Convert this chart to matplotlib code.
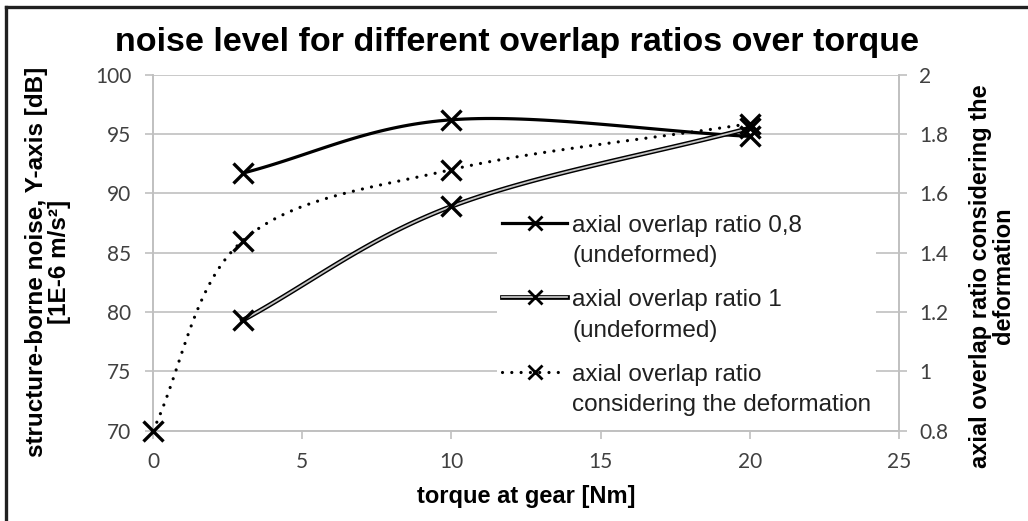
import numpy as np
import matplotlib.pyplot as plt
import matplotlib.patheffects as pe
from matplotlib.legend_handler import HandlerLine2D
from matplotlib.lines import Line2D
from matplotlib.transforms import Affine2D

# values
torque = [3, 10, 20]
noise_08 = [91.7, 96.2, 94.8]
noise_1 = [79.3, 88.9, 95.5]
torque_def = [0, 3, 10, 20]
ratio_def = [0.8, 1.44, 1.68, 1.835]

x_ticks = [0, 5, 10, 15, 20, 25]
y_ticks = [70, 75, 80, 85, 90, 95, 100]
y2_ticks = [0.8, 1.0, 1.2, 1.4, 1.6, 1.8, 2.0]

labels = ['axial overlap ratio 0,8\n(undeformed)',
          'axial overlap ratio 1\n(undeformed)',
          'axial overlap ratio\nconsidering the deformation']

TICK_FONT = ['Lato', 'DejaVu Sans']
LABEL_FONT = ['Liberation Sans', 'DejaVu Sans']
GRID = '#c0c0c0'
TXT = '#404040'


def smooth(x, y, n=40):
    # excel style smoothed line, catmull-rom as cubic bezier
    x = np.asarray(x, float)
    y = np.asarray(y, float)
    # reflected end points
    px = np.r_[2 * x[0] - x[1], x, 2 * x[-1] - x[-2]]
    py = np.r_[2 * y[0] - y[1], y, 2 * y[-1] - y[-2]]
    t = np.linspace(0, 1, n)
    xs, ys = [], []
    for i in range(1, len(x)):
        p0x, p0y = px[i], py[i]
        p3x, p3y = px[i + 1], py[i + 1]
        c1x = p0x + (px[i + 1] - px[i - 1]) / 6
        c1y = p0y + (py[i + 1] - py[i - 1]) / 6
        c2x = p3x - (px[i + 2] - px[i]) / 6
        c2y = p3y - (py[i + 2] - py[i]) / 6
        b = [(1 - t) ** 3, 3 * (1 - t) ** 2 * t, 3 * (1 - t) * t ** 2, t ** 3]
        xs.append(b[0] * p0x + b[1] * c1x + b[2] * c2x + b[3] * p3x)
        ys.append(b[0] * p0y + b[1] * c1y + b[2] * c2y + b[3] * p3y)
    return np.concatenate(xs), np.concatenate(ys)


class FirstLineHandler(HandlerLine2D):
    # put the legend symbol next to the first text line, like excel
    def create_artists(self, legend, orig_handle, xdescent, ydescent,
                       width, height, fontsize, trans):
        arts = super().create_artists(legend, orig_handle, xdescent, ydescent,
                                      width, height, fontsize, trans)
        for a in arts:
            a.set_transform(Affine2D().translate(0, 0.75 * fontsize) + trans)
        return arts


fig = plt.figure(figsize=(10.28, 5.21), dpi=100)
ax = fig.add_axes([153 / 1028, 1 - 430.7 / 521, 746 / 1028, 356 / 521])
ax2 = ax.twinx()

double_fx = [pe.Stroke(linewidth=3.4, foreground='black'), pe.Normal()]
mk = dict(marker='x', markersize=14, markeredgewidth=2.4, color='black')
lmk = dict(marker='x', markersize=10, markeredgewidth=2.0, markeredgecolor='black')

sx, sy = smooth(torque, noise_08)
ax.plot(sx, sy, color='black', lw=2.3, solid_capstyle='round', zorder=3)
ax.plot(torque, noise_08, ls='none', zorder=4, clip_on=False, **mk)

sx, sy = smooth(torque, noise_1)
ax.plot(sx, sy, color='#c4c4c4', lw=1.3, path_effects=double_fx, zorder=3)
ax.plot(torque, noise_1, ls='none', zorder=4, clip_on=False, **mk)

sx, sy = smooth(torque_def, ratio_def)
ax2.plot(sx, sy, color='black', lw=2.3, ls=(0, (0.01, 2.9)),
         dash_capstyle='round', zorder=3)
ax2.plot(torque_def, ratio_def, ls='none', zorder=4, clip_on=False, **mk)

ax.set_xlim(0, 25)
ax.set_ylim(70, 100)
ax2.set_ylim(0.8, 2.0)
ax.set_xticks(x_ticks)
ax.set_yticks(y_ticks)
ax2.set_yticks(y2_ticks)
ax2.set_yticklabels(['%g' % v for v in y2_ticks])

ax.grid(axis='y', color=GRID, lw=1.2)
ax.set_axisbelow(True)
for a in (ax, ax2):
    a.spines['top'].set_visible(False)
    for s in ('left', 'right', 'bottom'):
        a.spines[s].set_color(GRID)
        a.spines[s].set_linewidth(1.2)
    a.tick_params(colors=GRID, labelcolor=TXT, length=5.5, width=1.2,
                  labelsize=15, pad=9)
ax.tick_params(axis='y', pad=10)
ax.tick_params(axis='x', pad=10)
for lab in ax.get_xticklabels() + ax.get_yticklabels() + ax2.get_yticklabels():
    lab.set_family(TICK_FONT)

fig.text(517 / 1028, 1 - 42 / 521, 'noise level for different overlap ratios over torque',
         ha='center', va='center', fontsize=24.5, family=LABEL_FONT, weight='bold')
fig.text(526 / 1028, 1 - 497 / 521, 'torque at gear [Nm]', ha='center', va='center',
         fontsize=17, family=LABEL_FONT, weight='bold')
fig.text(48 / 1028, 1 - 262 / 521, 'structure-borne noise, Y-axis [dB]\n[1E-6 m/s²]',
         ha='center', va='center', rotation=90, multialignment='center',
         fontsize=17.5, family=LABEL_FONT, weight='bold', linespacing=1.05)
fig.text(992 / 1028, 1 - 276 / 521, 'axial overlap ratio considering the\ndeformation',
         ha='center', va='center', rotation=90, multialignment='center',
         fontsize=17, family=LABEL_FONT, weight='bold', linespacing=1.0)

# screenshot border on top and left
fig.add_artist(Line2D([6 / 1028, 6 / 1028], [0, 1 - 7 / 521], transform=fig.transFigure,
                      color='#202020', lw=2.4))
fig.add_artist(Line2D([6 / 1028, 1], [1 - 7 / 521, 1 - 7 / 521], transform=fig.transFigure,
                      color='#202020', lw=2.4))

h1 = Line2D([], [], color='black', lw=2.3, **lmk)
# double line and its marker as two handles so the outline does not thicken the x
h2 = (Line2D([], [], color='#c4c4c4', lw=1.3, path_effects=double_fx),
      Line2D([], [], ls='none', **lmk))
h3 = Line2D([], [], color='black', lw=2.3, ls=(0, (0.01, 2.9)), dash_capstyle='round',
            **lmk)
leg = ax2.legend([h1, h2, h3], labels, loc='upper left',
                 bbox_to_anchor=(497 / 1028, 1 - 210 / 521),
                 bbox_transform=fig.transFigure, borderaxespad=0, borderpad=0.2,
                 frameon=True, facecolor='white', edgecolor='none', framealpha=1,
                 fancybox=False, handlelength=2.7, handletextpad=0.2,
                 labelspacing=0.9, numpoints=1,
                 prop={'family': ['Liberation Sans', 'DejaVu Sans'], 'size': 17.5},
                 handler_map={Line2D: FirstLineHandler()})
for t in leg.get_texts():
    t.set_color('#202020')
    t.set_linespacing(1.5)

fig.savefig('out.png', dpi=100)
